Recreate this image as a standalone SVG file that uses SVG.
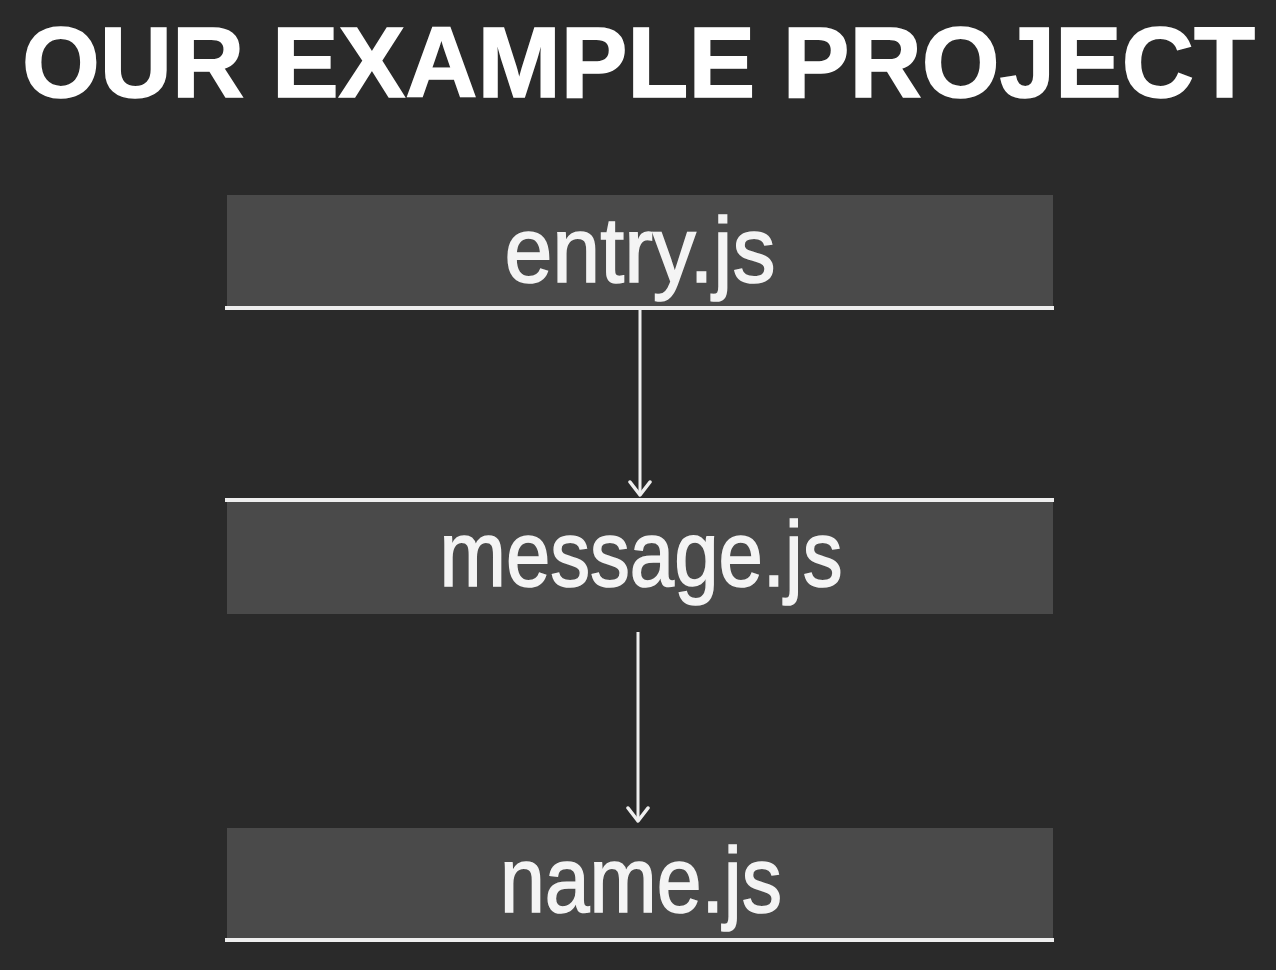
<svg xmlns="http://www.w3.org/2000/svg" width="1276" height="970" viewBox="0 0 1276 970">
<defs>
<style>
.bg{fill:#2a2a2a}
.box{fill:#4a4a4a}
.rule{stroke:#eeeeee;stroke-width:4}
.lbl{font-family:"Liberation Sans","DejaVu Sans",sans-serif;font-size:93px;fill:#f4f4f4;stroke:#f4f4f4;stroke-width:1.6;text-anchor:middle}
.title{font-family:"Liberation Sans","DejaVu Sans",sans-serif;font-weight:bold;font-size:100px;fill:#ffffff;stroke:#ffffff;stroke-width:1.5}
.edge{stroke:#eeeeee;stroke-width:3;fill:none}
</style>
<marker id="arr" viewBox="0 0 24 24" refX="19" refY="12" markerWidth="24" markerHeight="24" markerUnits="userSpaceOnUse" orient="auto">
<path d="M6 2 L19 12 L6 22" fill="none" stroke="#eeeeee" stroke-width="3.5" stroke-linecap="round" stroke-linejoin="round"/>
</marker>
</defs>
<rect class="bg" x="0" y="0" width="1276" height="970"/>
<text class="title" x="22" y="97" textLength="1233" lengthAdjust="spacingAndGlyphs">OUR EXAMPLE PROJECT</text>
<g id="entry">
<rect class="box" x="227" y="195" width="826" height="112"/>
<line class="rule" x1="225" y1="308" x2="1054" y2="308"/>
<text class="lbl" x="640" y="282" textLength="271" lengthAdjust="spacingAndGlyphs">entry.js</text>
</g>
<g id="message">
<rect class="box" x="227" y="500" width="826" height="114"/>
<line class="rule" x1="225" y1="500" x2="1054" y2="500"/>
<text class="lbl" x="641" y="586" textLength="403" lengthAdjust="spacingAndGlyphs">message.js</text>
</g>
<g id="name">
<rect class="box" x="227" y="828" width="826" height="112"/>
<line class="rule" x1="225" y1="940" x2="1054" y2="940"/>
<text class="lbl" x="641" y="912" textLength="282" lengthAdjust="spacingAndGlyphs">name.js</text>
</g>
<g id="connectors">
<line class="edge" x1="640" y1="310" x2="640" y2="495" marker-end="url(#arr)"/>
<line class="edge" x1="638" y1="632" x2="638" y2="821" marker-end="url(#arr)"/>
</g>
</svg>
